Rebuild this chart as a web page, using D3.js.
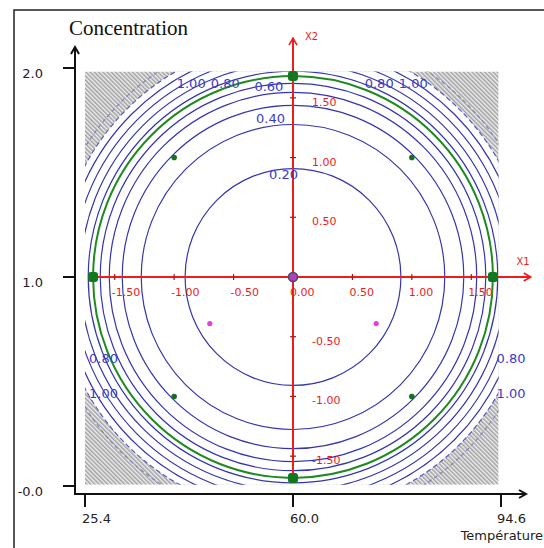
<!DOCTYPE html>
<html>
<head>
<meta charset="utf-8">
<script src="https://cdn.jsdelivr.net/npm/d3@7"></script>
<style>
  body { margin: 0; background: #fff; }
  svg { display: block; }
</style>
</head>
<body>
<div id="chart"></div>
<script>
// natural-unit axes
const tempTicks = [25.4, 60.0, 94.6];
const concTicks = [0.0, 1.0, 2.0];
const concTickLabels = ['-0.0', '1.0', '2.0'];

// coded axes X1 / X2
const codedTicks = [-1.5, -1.0, -0.5, 0.0, 0.5, 1.0, 1.5];

// iso-contours (coded radius) with their labels
const contourRadius = [0.908, 1.277, 1.437, 1.546, 1.622, 1.723, 1.79, 1.857, 1.924, 1.983];
const contourLabel = ['0.20', '0.40', '', '0.60', '', '', '', '0.80', '', '1.00'];
const hatchRadius = 1.983;
const outerDashed = [2.06];

// design points (coded)
const factorialPts = [[-1, -1], [1, -1], [-1, 1], [1, 1]];
const axialPts = [[-1.682, 0], [1.682, 0], [0, -1.682], [0, 1.682]];
const centerPts = [[0, 0]];
const extraPts = [[-0.70, -0.39], [0.70, -0.39]];
const starRadius = 1.682;

const W = 544, H = 548;

const svg = d3.select('#chart').append('svg')
  .attr('width', W)
  .attr('height', H)
  .style('font-family', '"DejaVu Sans", Verdana, sans-serif');

// scales
const x = d3.scaleLinear().domain([-1.75, 1.75]).range([85, 501]);
const y = d3.scaleLinear().domain([-1.75, 1.75]).range([486, 68]);
const tempScale = d3.scaleLinear().domain([25.4, 94.6]).range([85, 501]);
const concScale = d3.scaleLinear().domain([0, 2]).range([486, 68]);

const cx = x(0), cy = y(0);
const rx = r => x(r) - x(0);
const ry = r => y(0) - y(r);

// plot area (clip)
const px0 = x(-1.75), px1 = x(1.73), py0 = y(1.72), py1 = y(-1.74);

const defs = svg.append('defs');
defs.append('clipPath').attr('id', 'plotClip')
  .append('rect')
  .attr('x', px0).attr('y', py0)
  .attr('width', px1 - px0).attr('height', py1 - py0);

const pat = defs.append('pattern')
  .attr('id', 'hatch')
  .attr('patternUnits', 'userSpaceOnUse')
  .attr('width', 3).attr('height', 3)
  .attr('patternTransform', 'rotate(-45)');
pat.append('rect').attr('width', 3).attr('height', 3).attr('fill', '#efefef');
pat.append('line')
  .attr('x1', 0.8).attr('y1', 0).attr('x2', 0.8).attr('y2', 3)
  .attr('stroke', '#8c8c8c').attr('stroke-width', 1.2);

// outer frame
svg.append('path')
  .attr('d', `M14,${H} L14,10 L${W},10`)
  .attr('fill', 'none')
  .attr('stroke', '#222')
  .attr('stroke-width', 1.5);

// title of y axis
svg.append('text')
  .attr('x', 69).attr('y', 35)
  .style('font-family', '"Liberation Serif", "Times New Roman", serif')
  .style('font-size', '21px')
  .attr('fill', '#111')
  .text('Concentration');

const plot = svg.append('g').attr('clip-path', 'url(#plotClip)');

// hatched area outside the 1.00 contour
const hr = rx(hatchRadius), hry = ry(hatchRadius);
plot.append('path')
  .attr('d', `M${px0},${py0}H${px1}V${py1}H${px0}Z ` +
    `M${cx - hr},${cy} A${hr},${hry} 0 1,0 ${cx + hr},${cy} A${hr},${hry} 0 1,0 ${cx - hr},${cy}Z`)
  .attr('fill', 'url(#hatch)')
  .attr('fill-rule', 'evenodd');

// dashed contours inside the hatched area
plot.selectAll('.outer-contour')
  .data(outerDashed)
  .join('ellipse')
  .attr('class', 'outer-contour')
  .attr('cx', cx).attr('cy', cy)
  .attr('rx', d => rx(d)).attr('ry', d => ry(d))
  .attr('fill', 'none')
  .attr('stroke', '#8080b8')
  .attr('stroke-width', 1.1)
  .attr('stroke-dasharray', '4,3');

// contours
plot.selectAll('.contour')
  .data(contourRadius)
  .join('ellipse')
  .attr('class', 'contour')
  .attr('cx', cx).attr('cy', cy)
  .attr('rx', d => rx(d)).attr('ry', d => ry(d))
  .attr('fill', 'none')
  .attr('stroke', (d, i) => i === contourRadius.length - 1 ? '#5a5ac0' : '#3535b0')
  .attr('stroke-width', 1.2)
  .attr('stroke-dasharray', (d, i) => i === contourRadius.length - 1 ? '5,3' : null);

// green circle through the star points
plot.append('ellipse')
  .attr('cx', cx).attr('cy', cy)
  .attr('rx', rx(starRadius)).attr('ry', ry(starRadius))
  .attr('fill', 'none')
  .attr('stroke', '#1f8a1f')
  .attr('stroke-width', 2);

// black axes
const axisCol = '#111';
const ax0 = 75, ay0 = 494;
svg.append('line')
  .attr('x1', ax0).attr('y1', ay0 + 1).attr('x2', ax0).attr('y2', 48)
  .attr('stroke', axisCol).attr('stroke-width', 2);
svg.append('line')
  .attr('x1', ax0 - 1).attr('y1', ay0).attr('x2', 526).attr('y2', ay0)
  .attr('stroke', axisCol).attr('stroke-width', 2);
svg.append('path')
  .attr('d', `M${ax0 - 4},54 L${ax0},47 L${ax0 + 4},54`)
  .attr('fill', 'none').attr('stroke', axisCol).attr('stroke-width', 2);
svg.append('path')
  .attr('d', `M519,${ay0 - 4} L526,${ay0} L519,${ay0 + 4}`)
  .attr('fill', 'none').attr('stroke', axisCol).attr('stroke-width', 2);

// y ticks (concentration)
svg.selectAll('.ytick')
  .data(concTicks)
  .join('line')
  .attr('class', 'ytick')
  .attr('x1', 63).attr('x2', ax0)
  .attr('y1', d => concScale(d)).attr('y2', d => concScale(d))
  .attr('stroke', axisCol).attr('stroke-width', 2);
svg.selectAll('.ylab')
  .data(concTicks)
  .join('text')
  .attr('class', 'ylab')
  .attr('x', 43)
  .attr('y', d => concScale(d) + 10)
  .attr('text-anchor', 'end')
  .style('font-size', '13px')
  .attr('fill', '#222')
  .text((d, i) => concTickLabels[i]);

// x ticks (temperature)
svg.selectAll('.xtick')
  .data(tempTicks)
  .join('line')
  .attr('class', 'xtick')
  .attr('x1', d => tempScale(d)).attr('x2', d => tempScale(d))
  .attr('y1', ay0).attr('y2', 507)
  .attr('stroke', axisCol).attr('stroke-width', 2);
svg.selectAll('.xlab')
  .data(tempTicks)
  .join('text')
  .attr('class', 'xlab')
  .attr('x', (d, i) => i === tempTicks.length - 1 ? 526 : tempScale(d) - 3)
  .attr('y', 523)
  .attr('text-anchor', (d, i) => i === tempTicks.length - 1 ? 'end' : 'start')
  .style('font-size', '13px')
  .attr('fill', '#222')
  .text(d => d.toFixed(1));

svg.append('text')
  .attr('x', W - 1).attr('y', 540)
  .attr('text-anchor', 'end')
  .style('font-size', '13px')
  .attr('fill', '#222')
  .text('Température');

// red coded axes
const red = '#ee1c1c';
svg.append('line')
  .attr('x1', x(-starRadius)).attr('y1', cy).attr('x2', x(2.0)).attr('y2', cy)
  .attr('stroke', red).attr('stroke-width', 2);
svg.append('line')
  .attr('x1', cx).attr('y1', y(-starRadius)).attr('x2', cx).attr('y2', y(2.0))
  .attr('stroke', red).attr('stroke-width', 2);
svg.append('path')
  .attr('d', `M${x(2.0) - 7},${cy - 4} L${x(2.0)},${cy} L${x(2.0) - 7},${cy + 4}`)
  .attr('fill', 'none').attr('stroke', red).attr('stroke-width', 1.6);
svg.append('path')
  .attr('d', `M${cx - 4},${y(2.0) + 7} L${cx},${y(2.0)} L${cx + 4},${y(2.0) + 7}`)
  .attr('fill', 'none').attr('stroke', red).attr('stroke-width', 1.6);

const nonZero = codedTicks.filter(d => d !== 0);
svg.selectAll('.x1tick')
  .data(nonZero)
  .join('line')
  .attr('class', 'x1tick')
  .attr('x1', d => x(d)).attr('x2', d => x(d))
  .attr('y1', cy - 3).attr('y2', cy + 3)
  .attr('stroke', '#b01010').attr('stroke-width', 1.2);
svg.selectAll('.x2tick')
  .data(nonZero)
  .join('line')
  .attr('class', 'x2tick')
  .attr('x1', cx - 3).attr('x2', cx + 3)
  .attr('y1', d => y(d)).attr('y2', d => y(d))
  .attr('stroke', '#b01010').attr('stroke-width', 1.2);

svg.selectAll('.x1lab')
  .data(codedTicks)
  .join('text')
  .attr('class', 'x1lab')
  .attr('x', d => x(d) - 3)
  .attr('y', cy + 19)
  .style('font-size', '11px')
  .attr('fill', red)
  .text(d => d.toFixed(2));
svg.selectAll('.x2lab')
  .data(nonZero)
  .join('text')
  .attr('class', 'x2lab')
  .attr('x', cx + 19)
  .attr('y', d => y(d) + 8)
  .style('font-size', '11px')
  .attr('fill', red)
  .text(d => d.toFixed(2));

svg.append('text')
  .attr('x', x(1.88)).attr('y', cy - 12)
  .style('font-size', '10px').attr('fill', red)
  .text('X1');
svg.append('text')
  .attr('x', cx + 12).attr('y', y(2.0) + 2)
  .style('font-size', '10px').attr('fill', red)
  .text('X2');

// contour labels
const blue = '#3b3bc8';
const labelled = contourRadius
  .map((r, i) => ({ r: r, text: contourLabel[i] }))
  .filter(d => d.text !== '');

const lab = svg.append('g')
  .style('font-size', '13px')
  .attr('fill', blue);

labelled.forEach(d => {
  const R = rx(d.r), Ry = ry(d.r);
  const edgeX = px1 - cx;   // half width of plot area
  const edgeY = cy - py0;   // half height of plot area
  if (R < edgeX && Ry < edgeY) {
    // inner contour: label near the top of the ring
    const a = d.text === '0.20' ? 95 : 93;
    const t = a * Math.PI / 180;
    lab.append('text')
      .attr('x', cx + R * Math.cos(t))
      .attr('y', cy - Ry * Math.sin(t) + (d.text === '0.20' ? 10 : -2))
      .attr('text-anchor', d.text === '0.20' ? 'middle' : 'end')
      .text(d.text);
  } else {
    // outer contour: labels where it meets the plot edges
    const dxTop = R * Math.sqrt(Math.max(0, 1 - (edgeY / Ry) ** 2));
    const dySide = Ry * Math.sqrt(Math.max(0, 1 - (edgeX / R) ** 2));
    lab.append('text')
      .attr('x', cx - dxTop + 1).attr('y', py0 + 16)
      .text(d.text);
    lab.append('text')
      .attr('x', cx + dxTop + 3).attr('y', py0 + 16)
      .attr('text-anchor', 'middle')
      .text(d.text);
    lab.append('text')
      .attr('x', px0 + 4).attr('y', cy + dySide + 5)
      .text(d.text);
    lab.append('text')
      .attr('x', px1 - 2).attr('y', cy + dySide + 5)
      .text(d.text);
  }
});

// design points
svg.selectAll('.factorial')
  .data(factorialPts)
  .join('circle')
  .attr('class', 'factorial')
  .attr('cx', d => x(d[0])).attr('cy', d => y(d[1]))
  .attr('r', 2.8)
  .attr('fill', '#17701f');

svg.selectAll('.axial')
  .data(axialPts)
  .join('rect')
  .attr('class', 'axial')
  .attr('x', d => x(d[0]) - 5).attr('y', d => y(d[1]) - 5)
  .attr('width', 10).attr('height', 10)
  .attr('rx', 3)
  .attr('fill', '#12781e');

svg.selectAll('.extra')
  .data(extraPts)
  .join('circle')
  .attr('class', 'extra')
  .attr('cx', d => x(d[0])).attr('cy', d => y(d[1]))
  .attr('r', 2.6)
  .attr('fill', '#e23ee2');

svg.selectAll('.center')
  .data(centerPts)
  .join('circle')
  .attr('class', 'center')
  .attr('cx', d => x(d[0])).attr('cy', d => y(d[1]))
  .attr('r', 4.5)
  .attr('fill', '#b040c0')
  .attr('stroke', '#4a4a5a')
  .attr('stroke-width', 1.6);
</script>
</body>
</html>
